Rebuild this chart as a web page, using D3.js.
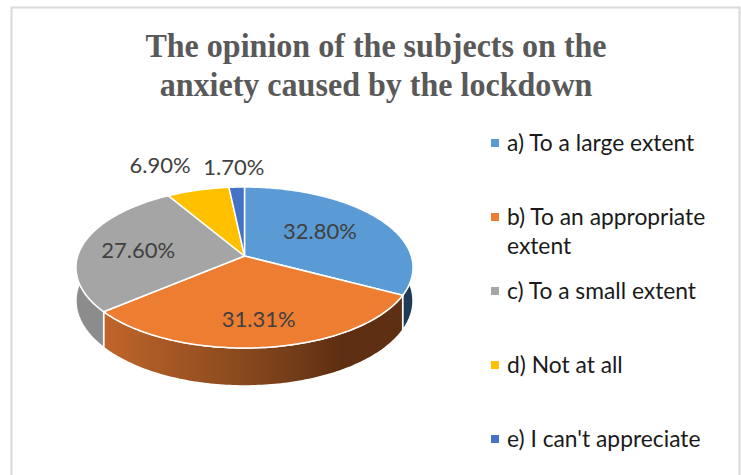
<!DOCTYPE html>
<html>
<head>
<meta charset="utf-8">
<script src="https://d3js.org/d3.v7.min.js"></script>
<style>
	html, body { margin: 0; padding: 0; background: #fff; }
	svg { display: block; }
	.title { font-family: "Liberation Serif", serif; font-weight: bold; fill: #595959; }
	.pct { font-family: Lato, sans-serif; fill: #404040; }
	.leg { font-family: Lato, sans-serif; fill: #1a1a1a; }
</style>
</head>
<body>
<svg id="chart" width="741" height="475"></svg>
<script>

var titleLines = [ "The opinion of the subjects on the", "anxiety caused by the lockdown" ];

var categories = [ "a) To a large extent", "b) To an appropriate\nextent", "c) To a small extent", "d) Not at all", "e) I can't appreciate" ];
var values = [ 32.80, 31.31, 27.60, 6.90, 1.70 ];
var valueLabels = [ "32.80%", "31.31%", "27.60%", "6.90%", "1.70%" ];

var colors = [ "#5b9bd5", "#ed7d31", "#a5a5a5", "#ffc000", "#4472c4" ];

// label placement: radius as a share of the pie, then a small nudge in px
var labelRadius = [ 0.55, 0.72, 0.65, 1.3, 1.3 ];
var labelNudgeX = [ 0, 0, -1, -26, -1 ];
var labelNudgeY = [ -2, 1, 3, -7, -2 ];

var W = 741, H = 475;

var pieCx = 244.5, pieCy = 256;
var rx = 166.8, ry = 78.86;
var persp = 1 / 7;	// the front of the disc is nearer
var depth = 32.5;

function project(theta, r)	{

	var x = r * Math.sin(theta);
	var y = -r * Math.cos(theta);
	var d = 1 - persp * y;

	return {
		x: pieCx + rx * x / d,
		y: pieCy + ry * y / d,
		drop: depth / d
	};

}

var svg = d3.select("#chart");
var defs = svg.append("defs");

svg.append("path")
	.attr("d", d3.line()([ [11.5, H], [11.5, 7.5], [739.5, 7.5], [739.5, H] ]))
	.attr("fill", "none")
	.attr("stroke", "#d9d9d9")
	.attr("stroke-width", 2);

svg.selectAll(".title")
	.data(titleLines)
	.join("text")
	.attr("class", "title")
	.attr("transform", (d, i) => `translate(376,${57 + i * 39}) scale(0.943,1)`)
	.attr("text-anchor", "middle")
	.attr("font-size", 34)
	.text(d => d);

var arcs = d3.pie().sort(null)(values);

var line = d3.line().x(d => d[0]).y(d => d[1]);

function topRim(a)	{

	var n = Math.max(2, Math.ceil((a.endAngle - a.startAngle) * 60));

	return d3.range(n + 1).map(i => {
		var p = project(a.startAngle + (a.endAngle - a.startAngle) * i / n, 1);
		return [ p.x, p.y, p.drop ];
	});

}

// side walls, the top faces cover whatever sits behind them
var wallStops = [
	[ ["0%", "#1f3b56"], ["100%", "#1f3b56"] ],
	[ ["0%", "#c0652a"], ["45%", "#8a4a1e"], ["80%", "#5e2f12"], ["100%", "#5e2f12"] ],
	[ ["0%", "#8c8c8c"], ["100%", "#8c8c8c"] ],
	[ ["0%", "#997300"], ["100%", "#997300"] ],
	[ ["0%", "#2f5597"], ["100%", "#2f5597"] ]
];

arcs.forEach( (a, i) => {

	var rim = topRim(a);
	var xs = d3.extent(rim, d => d[0]);

	var g = defs.append("linearGradient")
		.attr("id", "wall" + i)
		.attr("gradientUnits", "userSpaceOnUse")
		.attr("x1", xs[0])
		.attr("x2", xs[1])
		.attr("y1", 0)
		.attr("y2", 0);

	wallStops[i].forEach( s => {
		g.append("stop").attr("offset", s[0]).attr("stop-color", s[1]);
	});

});

svg.selectAll(".wall")
	.data(arcs)
	.join("path")
	.attr("class", "wall")
	.attr("fill", (d, i) => "url(#wall" + i + ")")
	.attr("stroke", "#fff")
	.attr("stroke-width", 1.5)
	.attr("stroke-linejoin", "round")
	.attr("d", d => {
		var rim = topRim(d);
		var low = rim.map(p => [ p[0], p[1] + p[2] ]).reverse();
		return line(rim.concat(low)) + "Z";
	});

svg.selectAll(".face")
	.data(arcs)
	.join("path")
	.attr("class", "face")
	.attr("fill", (d, i) => colors[i])
	.attr("stroke", "#fff")
	.attr("stroke-width", 1.5)
	.attr("stroke-linejoin", "round")
	.attr("d", d => line([ [pieCx, pieCy] ].concat(topRim(d))) + "Z");

svg.selectAll(".pct")
	.data(arcs)
	.join("text")
	.attr("class", "pct")
	.attr("text-anchor", "middle")
	.attr("font-size", 22)
	.attr("x", (d, i) => project((d.startAngle + d.endAngle) / 2, labelRadius[i]).x + labelNudgeX[i])
	.attr("y", (d, i) => project((d.startAngle + d.endAngle) / 2, labelRadius[i]).y + labelNudgeY[i] + 7)
	.text((d, i) => valueLabels[i]);

var legendY = d3.scalePoint()
	.domain(categories)
	.range([143, 439]);

var legend = svg.selectAll(".legrow")
	.data(categories)
	.join("g")
	.attr("class", "legrow")
	.attr("transform", d => `translate(491,${legendY(d)})`);

legend.append("rect")
	.attr("y", -4)
	.attr("width", 8)
	.attr("height", 8)
	.attr("fill", (d, i) => colors[i]);

legend.append("text")
	.attr("class", "leg")
	.attr("font-size", 22.8)
	.attr("x", 16)
	.attr("y", 8)
	.selectAll("tspan")
	.data(d => d.split("\n"))
	.join("tspan")
	.attr("x", 16)
	.attr("dy", (d, i) => i ? 29 : 0)
	.text(d => d);

</script>
</body>
</html>
